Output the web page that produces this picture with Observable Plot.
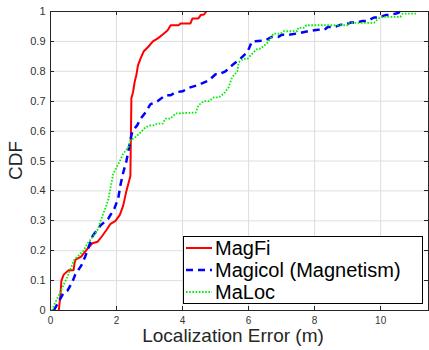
<!DOCTYPE html>
<html><head><meta charset="utf-8">
<script src="https://cdn.jsdelivr.net/npm/d3@7"></script>
<script src="https://cdn.jsdelivr.net/npm/@observablehq/plot@0.6"></script>
<style>body{margin:0;background:#fff} svg{display:block}</style>
</head><body><div id="chart"></div>
<script>
const xTicks = [0, 2, 4, 6, 8, 10];
const yTicks = [0, 0.1, 0.2, 0.3, 0.4, 0.5, 0.6, 0.7, 0.8, 0.9, 1];
const seriesNames = ["MagFi", "Magicol (Magnetism)", "MaLoc"];
const seriesColors = ["#ff0000", "#0000ff", "#00ee00"];
const xLabel = "Localization Error (m)";
const yLabel = "CDF";

const magfiX = [0.25,0.3,0.33,0.4,0.45,0.55,0.7,0.73,0.76,0.93,1.0,1.15,1.27,1.43,1.57,1.7,1.82,1.97,2.1,2.2,2.3,2.42,2.45,2.5,2.55,2.6,2.65,2.73,2.82,2.97,3.1,3.25,3.4,3.55,3.64,3.88,3.94,4.24,4.3,4.48,4.55,4.65,4.72];
const magfiY = [0,0.05,0.1,0.12,0.125,0.135,0.135,0.16,0.17,0.18,0.19,0.21,0.225,0.23,0.25,0.27,0.29,0.3,0.32,0.35,0.4,0.45,0.71,0.73,0.765,0.787,0.82,0.843,0.866,0.883,0.9,0.91,0.923,0.937,0.954,0.954,0.96,0.96,0.977,0.977,0.988,0.99,1.0];

const magicolX = [0.1,0.3,0.4,0.52,0.66,0.75,0.93,1.05,1.15,1.28,1.52,1.75,1.93,2.05,2.12,2.2,2.3,2.36,2.42,2.48,2.63,2.72,2.88,3.03,3.24,3.48,3.64,3.79,4.0,4.2,4.5,4.8,5.0,5.1,5.3,5.5,5.73,5.97,6.1,6.5,6.7,6.9,7.0,7.2,7.5,7.8,8.1,8.3,8.4,8.6,8.8,8.9,9.1,9.25,9.45,9.6,9.8,9.95,10.15,10.25,10.5,10.6];
const magicolY = [0,0.04,0.06,0.067,0.095,0.12,0.15,0.18,0.21,0.25,0.285,0.307,0.34,0.374,0.42,0.46,0.5,0.535,0.57,0.6,0.62,0.64,0.663,0.69,0.7,0.72,0.72,0.73,0.733,0.745,0.755,0.77,0.79,0.79,0.8,0.82,0.84,0.865,0.9,0.903,0.915,0.915,0.922,0.922,0.927,0.934,0.939,0.939,0.948,0.948,0.956,0.956,0.963,0.963,0.968,0.968,0.98,0.98,0.988,0.988,0.994,1.0];

const malocX = [0.05,0.1,0.25,0.36,0.5,0.63,0.7,0.85,1.0,1.12,1.27,1.42,1.52,1.6,1.67,1.75,1.8,1.9,2.1,2.2,2.36,2.42,2.58,2.73,2.88,3.03,3.12,3.24,3.4,3.48,3.64,3.79,4.4,4.48,4.64,4.8,4.95,5.1,5.25,5.4,5.5,5.66,5.7,5.85,5.97,6.12,6.27,6.36,6.57,6.67,6.76,6.97,7.06,7.48,7.5,7.67,7.75,9.0,9.03,9.8,9.87,10.0,10.6,10.67,11.1];
const malocY = [0,0.017,0.05,0.077,0.11,0.145,0.167,0.184,0.2,0.224,0.245,0.268,0.3,0.324,0.345,0.37,0.4,0.457,0.5,0.524,0.546,0.57,0.58,0.596,0.613,0.619,0.619,0.625,0.625,0.642,0.642,0.659,0.662,0.686,0.7,0.7,0.713,0.713,0.725,0.747,0.78,0.8,0.83,0.842,0.842,0.86,0.876,0.876,0.895,0.912,0.926,0.926,0.934,0.934,0.945,0.945,0.954,0.954,0.962,0.962,0.97,0.982,0.982,0.993,0.993];

const toRows = (xs, ys) => xs.map((x, i) => ({x, y: ys[i]}));
const magfi = toRows(magfiX, magfiY);
const magicol = toRows(magicolX, magicolY);
const maloc = toRows(malocX, malocY);

const font = "'Liberation Sans', Arial, Helvetica, sans-serif";
const gridColor = "#dedede";
const axisColor = "#262626";
const lineStyles = [
  {w: 2, dash: null},
  {w: 2.5, dash: "7,5"},
  {w: 1.8, dash: "1.6,1.6"}
];

const chart = Plot.plot({
  width: 429, height: 350,
  marginLeft: 50, marginRight: 1, marginTop: 11, marginBottom: 40,
  style: {fontFamily: font, background: "#fff", overflow: "visible"},
  x: {domain: [0, 11.45]},
  y: {domain: [0, 1]},
  marks: [
    Plot.gridX(xTicks.slice(1), {stroke: gridColor, strokeOpacity: 1}),
    Plot.gridY(yTicks.slice(1, -1), {stroke: gridColor, strokeOpacity: 1}),
    Plot.line(magfi, {x: "x", y: "y", stroke: seriesColors[0], strokeWidth: lineStyles[0].w, strokeLinecap: "butt", strokeLinejoin: "miter"}),
    Plot.line(magicol, {x: "x", y: "y", stroke: seriesColors[1], strokeWidth: lineStyles[1].w, strokeDasharray: lineStyles[1].dash, strokeLinecap: "butt", strokeLinejoin: "miter"}),
    Plot.line(maloc, {x: "x", y: "y", stroke: seriesColors[2], strokeWidth: lineStyles[2].w, strokeDasharray: lineStyles[2].dash, strokeLinecap: "butt", strokeLinejoin: "miter"}),
    Plot.frame({stroke: axisColor, strokeWidth: 1}),
    Plot.axisX(xTicks, {anchor: "bottom", tickSize: 0, tickPadding: 6, fontSize: 10, fill: "#333", label: null, tickFormat: d => String(d)}),
    Plot.axisY(yTicks, {anchor: "left", tickSize: 0, tickPadding: 5, fontSize: 11, fill: "#333", label: null, tickFormat: d => String(d)})
  ]
});

document.getElementById("chart").appendChild(chart);

const svg = d3.select(chart);
const sx = chart.scale("x"), sy = chart.scale("y");
const x0 = sx.range[0], x1 = sx.range[1];
const y0 = sy.range[0], y1 = sy.range[1];
const tl = 4;
const tg = svg.append("g").attr("stroke", axisColor).attr("stroke-width", 1);
xTicks.slice(1).forEach(v => {
  const px = Math.round(sx.apply(v)) + 0.5;
  tg.append("line").attr("x1", px).attr("x2", px).attr("y1", y0).attr("y2", y0 - tl);
  tg.append("line").attr("x1", px).attr("x2", px).attr("y1", y1).attr("y2", y1 + tl);
});
yTicks.slice(1, -1).forEach(v => {
  const py = Math.round(sy.apply(v)) + 0.5;
  tg.append("line").attr("x1", x0).attr("x2", x0 + tl).attr("y1", py).attr("y2", py);
  tg.append("line").attr("x1", x1).attr("x2", x1 - tl).attr("y1", py).attr("y2", py);
});

svg.append("text").text(xLabel)
  .attr("x", (x0 + x1) / 2 - 6).attr("y", 342)
  .attr("text-anchor", "middle").attr("font-size", 19).attr("fill", "#262626")
  .attr("font-family", font);
svg.append("text").text(yLabel)
  .attr("transform", `translate(22,${(y0 + y1) / 2}) rotate(-90)`)
  .attr("text-anchor", "middle").attr("font-size", 19).attr("fill", "#262626")
  .attr("font-family", font);

// legend
const lg = svg.append("g").attr("font-family", font).attr("text-anchor", "start");
lg.append("rect").attr("x", 183.5).attr("y", 236.5).attr("width", 239).attr("height", 67)
  .attr("fill", "#fff").attr("stroke", "#000").attr("stroke-width", 1);
seriesNames.forEach((name, i) => {
  const cy = 248 + i * 22;
  lg.append("line").attr("x1", 186).attr("x2", 212).attr("y1", cy).attr("y2", cy)
    .attr("stroke", seriesColors[i]).attr("stroke-width", lineStyles[i].w)
    .attr("stroke-dasharray", lineStyles[i].dash).attr("stroke-linecap", "butt");
  lg.append("text").text(name).attr("x", 215).attr("y", cy + 7)
    .attr("text-anchor", "start").attr("font-size", 20).attr("fill", "#000");
});
</script>
</body></html>
